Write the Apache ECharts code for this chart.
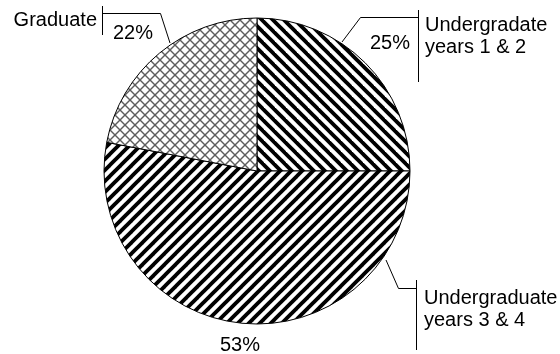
<!DOCTYPE html>
<html><head><meta charset="utf-8">
<script src="https://cdn.jsdelivr.net/npm/echarts@6/dist/echarts.min.js"></script>
<style>html,body{margin:0;padding:0;background:#fff}#c{width:560px;height:354px}</style>
</head><body><div id="c"></div>
<script>
// ---- data ----
const categories = ['Undergradate\nyears 1 & 2', 'Undergraduate\nyears 3 & 4', 'Graduate'];
const values = [25, 53, 22];
const valueSuffix = '%';

// ---- label layout (positions only) ----
const pctLayout = [
  {x: 390, y: 43, align: 'center', line: [[342,42],[360.5,17.5],[418.5,17.5],[418.5,10],[418.5,82]]},
  {x: 240, y: 345, align: 'center', line: null},
  {x: 133, y: 33, align: 'center', line: [[170,43],[160.5,13.5],[102.5,13.5],[102.5,6],[102.5,35]]}
];
const nameLayout = [
  {x: 425, y: 36, align: 'left', line: null},
  {x: 424, y: 309, align: 'left', line: [[386,260],[398.5,288.5],[416.5,288.5],[416.5,280],[416.5,350]]},
  {x: 97, y: 20, align: 'right', line: null}
];

function makePattern(kind) {
  const p = kind === 'cross' ? 10 : 11;
  const c = document.createElement('canvas');
  c.width = p; c.height = p;
  const g = c.getContext('2d');
  g.fillStyle = '#fff'; g.fillRect(0, 0, p, p);
  function diag(down) {
    for (let k = -2; k <= 2; k++) {
      g.beginPath();
      if (down) { g.moveTo(k*p - p, -p); g.lineTo(k*p + 2*p, 2*p); }
      else { g.moveTo(k*p - p, 2*p); g.lineTo(k*p + 2*p, -p); }
      g.stroke();
    }
  }
  if (kind === 'back') { g.strokeStyle = '#000'; g.lineWidth = 3.8; diag(true); }
  else if (kind === 'fwd') { g.strokeStyle = '#000'; g.lineWidth = 3.8; diag(false); }
  else { g.strokeStyle = '#5e5e5e'; g.lineWidth = 1.4; diag(true); diag(false); }
  return {image: c, repeat: 'repeat'};
}
const fills = [makePattern('back'), makePattern('fwd'), makePattern('cross')];

const font = {fontFamily: 'Liberation Sans, Arial, sans-serif', fontSize: 20, color: '#000'};
const center = [257, 171];
const radius = 153;

const chart = echarts.init(document.getElementById('c'), null, {renderer: 'canvas'});
chart.setOption({
  animation: false,
  backgroundColor: '#fff',
  series: [
    {
      type: 'pie', center: center, radius: radius, startAngle: 90, clockwise: true,
      avoidLabelOverlap: false, silent: true,
      itemStyle: {borderColor: '#000', borderWidth: 1},
      label: Object.assign({show: true, position: 'outside',
        formatter: p => p.value + valueSuffix}, font),
      labelLine: {show: true, lineStyle: {color: '#000', width: 1}},
      emphasis: {disabled: true},
      labelLayout: function (params) {
        const L = pctLayout[params.dataIndex];
        const o = {x: L.x, y: L.y, align: L.align, verticalAlign: 'middle'};
        if (L.line) o.labelLinePoints = L.line;
        return o;
      },
      data: values.map((v, i) => ({
        name: categories[i], value: v,
        itemStyle: {color: fills[i]},
        labelLine: {show: !!pctLayout[i].line}
      }))
    },
    {
      type: 'pie', center: center, radius: radius, startAngle: 90, clockwise: true,
      avoidLabelOverlap: false, silent: true, z: 3,
      itemStyle: {color: 'rgba(0,0,0,0)', borderWidth: 0},
      label: Object.assign({show: true, position: 'outside', lineHeight: 22,
        formatter: p => p.name}, font),
      labelLine: {show: true, lineStyle: {color: '#000', width: 1}},
      emphasis: {disabled: true},
      labelLayout: function (params) {
        const L = nameLayout[params.dataIndex];
        const o = {x: L.x, y: L.y, align: L.align, verticalAlign: 'middle'};
        if (L.line) o.labelLinePoints = L.line;
        return o;
      },
      data: values.map((v, i) => ({
        name: categories[i], value: v,
        labelLine: {show: !!nameLayout[i].line}
      }))
    }
  ]
});
</script></body></html>
